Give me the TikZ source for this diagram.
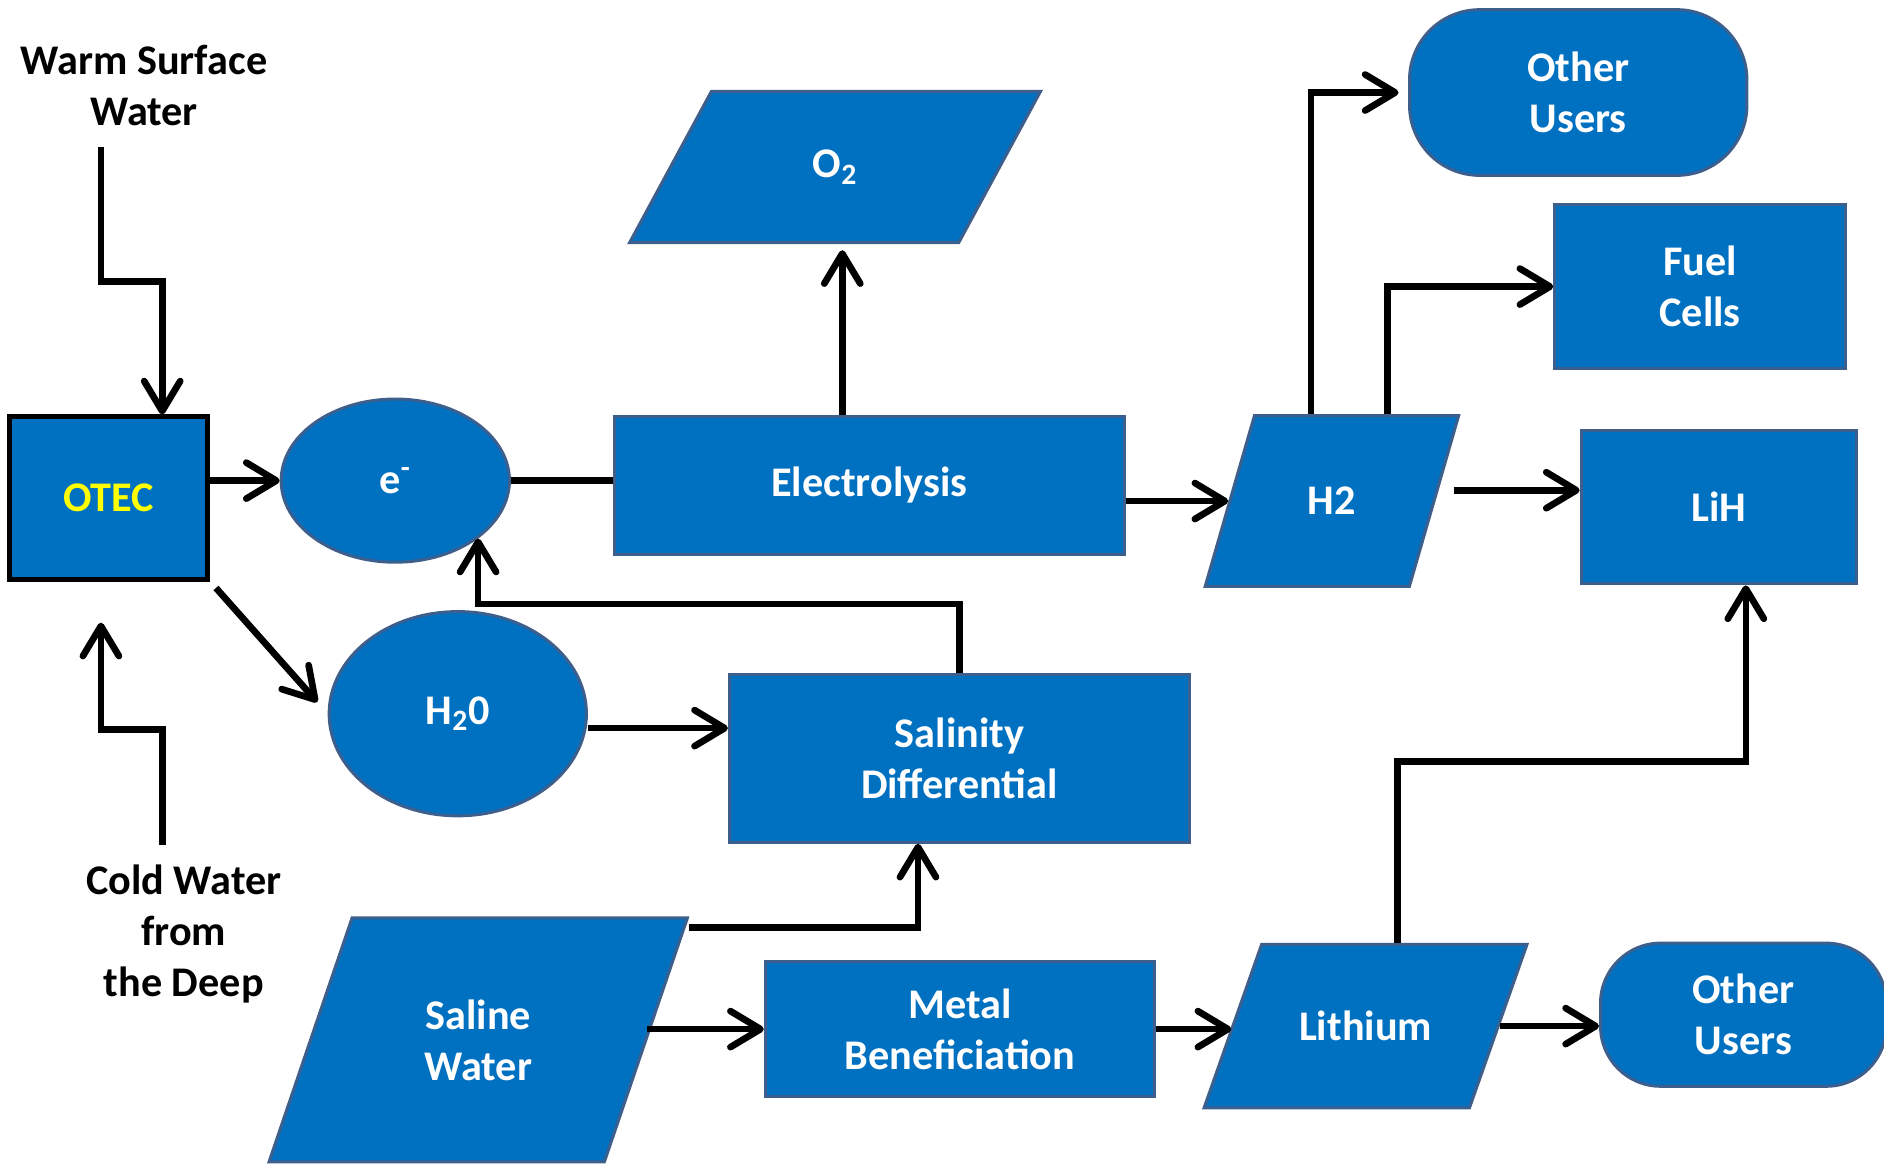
\documentclass[tikz,border=0pt]{standalone}
\usepackage{fontspec}
\setmainfont{Carlito}
\usepackage{tikz}
\usetikzlibrary{
    arrows.meta,
    calc,
    shapes.geometric
}
\definecolor{boxblue}{HTML}{0070C0}
\definecolor{rimblue}{HTML}{3C5F8D}
\definecolor{otecyellow}{HTML}{FFFF00}

\begin{document}
\begin{tikzpicture}[x=0.024cm, y=-0.024cm, thick,
        font=\fontsize{24}{29}\selectfont\bfseries,
        box/.style={draw=rimblue, line width=1.7pt, fill=boxblue, text=white, align=center, inner sep=0pt},
        rect/.style={box, rectangle},
        oval/.style={box, ellipse},
        slant/.style={box, trapezium},
        slanttext/.style={text=white, align=center},
        user/.style={box, rectangle, rounded corners=1.4cm},
        flow/.style={line width=3.8pt, -{Straight Barb[length=0.6cm, width=0.72cm, round]}},
        link/.style={line width=3.8pt}]
            \useasboundingbox (0,0) rectangle (1568,971);
            \node (warm) [align=center] at (120,71) {Warm Surface\\Water};
            \node (cold) [align=center] at (153,777) {Cold Water\\from\\the Deep};
            \node (otec) [rect, draw=black, line width=2.8pt, text=otecyellow, minimum width=3.96cm, minimum height=3.24cm] at (90.5,414.5) {OTEC};
            \node (elec) [oval, minimum width=4.56cm, minimum height=3.26cm] at (329,400) {e\textsuperscript{-}};
            \node (electrolysis) [rect, minimum width=10.2cm, minimum height=2.74cm] at (723.5,404) {Electrolysis};
            \node (oxygen) [slant, trapezium left angle=61.6, trapezium right angle=118.4, inner xsep=2.47cm, inner ysep=1.512cm, label={[slanttext]center:O\textsubscript{2}}] at (695,139) {};
            \node (htwo) [slant, trapezium left angle=73.9, trapezium right angle=106.1, inner xsep=1.548cm, inner ysep=1.704cm, label={[slanttext]center:H2}] at (1108.5,417) {};
            \node (otherA) [user, minimum width=6.74cm, minimum height=3.31cm] at (1313.5,77) {Other\\Users};
            \node (fuel) [rect, minimum width=5.81cm, minimum height=3.29cm] at (1415,238.5) {Fuel\\Cells};
            \node (lih) [rect, minimum width=5.5cm, minimum height=3.07cm] at (1430.5,422) {LiH};
            \node (water) [oval, minimum width=5.14cm, minimum height=4.08cm] at (381,594) {H\textsubscript{2}0};
            \node (salinity) [rect, minimum width=9.19cm, minimum height=3.36cm] at (798.5,631) {Salinity\\Differential};
            \node (saline) [slant, trapezium left angle=71.2, trapezium right angle=108.8, inner xsep=2.52cm, inner ysep=2.436cm, label={[slanttext]center:Saline\\Water}] at (398,865.5) {};
            \node (metal) [rect, minimum width=7.78cm, minimum height=2.71cm] at (799,856.5) {Metal\\Beneficiation};
            \node (lithium) [slant, trapezium left angle=70.6, trapezium right angle=109.4, inner xsep=2.076cm, inner ysep=1.632cm, label={[slanttext]center:Lithium}] at (1136.5,854) {};
            \node (otherB) [user, rounded corners=1.2cm, minimum width=5.71cm, minimum height=2.86cm] at (1451,844.5) {Other\\Users};
            \coordinate (warmend) at (84,122);
            \coordinate (coldend) at (135,703);
            \coordinate (htwoout) at ($(htwo.east)+(15,-9)$);
            \coordinate (waterout) at ($(water.east)+(0,12)$);
            % water intakes
            \draw[flow] (warmend) -- ++(0,112) -| ($(otec.north)+(44.5,0)$);
            \draw[flow, shorten >=0.82cm] (coldend) -- ++(0,-96) -| ($(otec.south)+(-6.5,0)$);
            % top row
            \draw[flow] (otec.east |- elec.west) -- (elec.west);
            \draw[link] (elec.east) -- (elec.east -| electrolysis.west);
            \draw[flow] ($(electrolysis.north)+(-22.5,0)$) -- ($(oxygen.south)+(6,5)$);
            \draw[flow] (electrolysis.east |- htwo.west) -- (htwo.west);
            \draw[flow, shorten >=0.19cm] ($(htwo.north)+(-17.5,0)$) |- (otherA.west);
            \draw[flow] ($(htwo.north)+(46.5,0)$) |- (fuel.west);
            \draw[flow] (htwoout) -- (htwoout -| lih.west);
            % middle row
            \draw[flow, shorten <=0.17cm, shorten >=0.31cm] (otec.south east) -- (water.west);
            \draw[flow] (waterout) -- (waterout -| salinity.west);
            \draw[flow] (salinity.north) -- ++(0,-57) -| (elec.-35);
            % bottom row
            \draw[flow] ($(saline.top right corner)+(0,9)$) -| ($(salinity.south)+(-34.5,0)$);
            \draw[flow] (metal.west -| saline.east) -- (metal.west);
            \draw[flow] (metal.east) -- (metal.east -| lithium.west);
            \draw[flow] ($(lithium.north)+(26.5,0)$) -- ++(0,-151) -| ($(lih.south)+(22.5,0)$);
            \draw[flow] (lithium.east) -- (lithium.east -| otherB.west);
        \end{tikzpicture}
\end{document}
